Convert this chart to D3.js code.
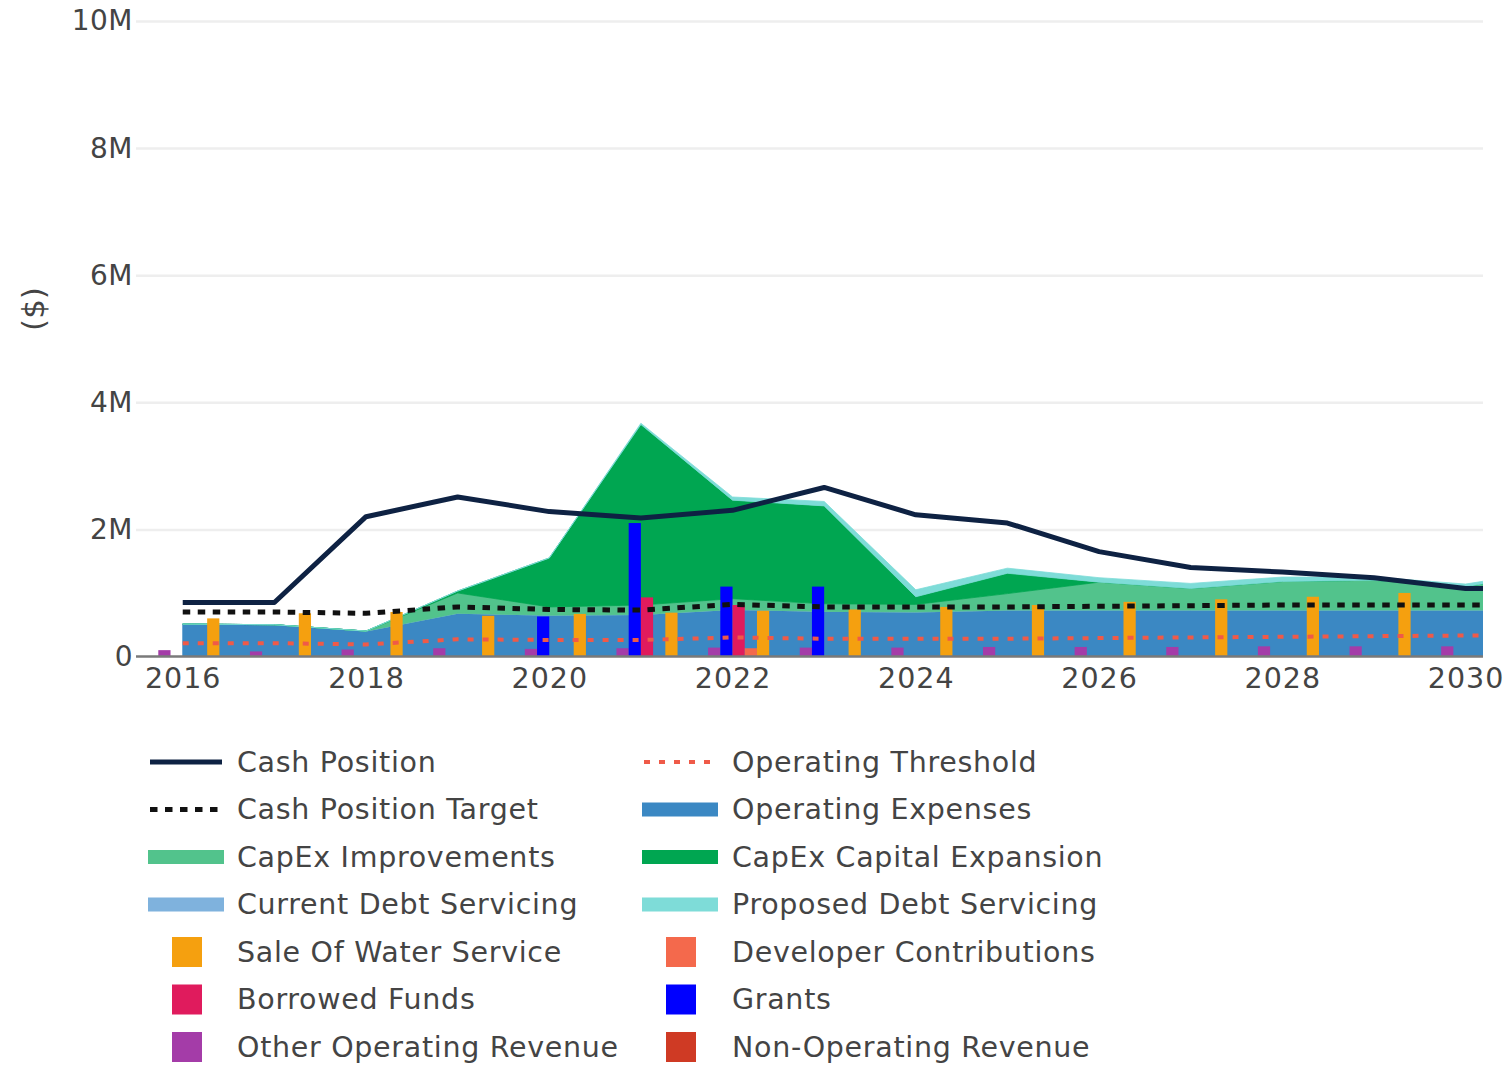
<!DOCTYPE html>
<html><head><meta charset="utf-8">
<script src="https://cdn.jsdelivr.net/npm/d3@7"></script>
<style>
body{margin:0;background:#fff}
text{font-family:"DejaVu Sans",Verdana,sans-serif;fill:#444}
</style>
</head><body>
<svg id="chart" width="1511" height="1065"></svg>
<script>
// ---------- DATA (values in $ millions) ----------
const years = [2016,2017,2018,2019,2020,2021,2022,2023,2024,2025,2026,2027,2028,2029,2030,2031];
const cashPosition       = [0.85,0.85,2.20,2.51,2.28,2.18,2.30,2.66,2.23,2.10,1.65,1.40,1.33,1.24,1.07,1.07];
const cashPositionTarget = [0.70,0.70,0.68,0.78,0.74,0.73,0.82,0.78,0.78,0.78,0.79,0.80,0.81,0.81,0.81,0.81];
const operatingThreshold = [0.21,0.21,0.19,0.27,0.26,0.26,0.30,0.28,0.28,0.28,0.29,0.30,0.31,0.32,0.33,0.33];
const operatingExpenses  = [0.51,0.50,0.40,0.68,0.65,0.66,0.74,0.71,0.70,0.73,0.73,0.73,0.73,0.73,0.73,0.73];
const currentDebtServicing = [0,0,0,0,0,0,0,0,0,0,0,0,0,0,0,0];
const capexImprovements  = [0,0,0,0.32,0.13,0.15,0.17,0.12,0.12,0.26,0.44,0.34,0.45,0.47,0.37,0.60];
const capexExpansion     = [0,0,0,0.03,0.77,2.84,1.55,1.54,0.12,0.32,0,0,0,0,0,0];
const proposedDebtServicing = [0,0,0,0,0,0.02,0.05,0.07,0.11,0.08,0.07,0.08,0.07,0.05,0.04,0.04];

const barYears = [2016,2017,2018,2019,2020,2021,2022,2023,2024,2025,2026,2027,2028,2029,2030];
const saleOfWaterService     = [0.60,0.68,0.70,0.64,0.67,0.69,0.72,0.74,0.78,0.81,0.86,0.90,0.94,1.00,1.04];
const developerContributions = [0,0,0,0,0,0,0.13,0,0,0,0,0,0,0,0];
const borrowedFunds          = [0,0,0,0,0,0.93,0.81,0,0,0,0,0,0,0,0];
const grants                 = [0,0,0,0,0.63,2.10,1.10,1.10,0,0,0,0,0,0,0];
const otherOperatingRevenue  = [0.10,0.08,0.11,0.13,0.12,0.13,0.14,0.14,0.14,0.15,0.15,0.15,0.16,0.16,0.16];
const nonOperatingRevenue    = [0,0,0,0,0,0,0,0,0,0,0,0,0,0,0];

const xTickValues = [2016,2018,2020,2022,2024,2026,2028,2030];
const yTickValues = [0,2,4,6,8,10];
const yTickLabels = ["0","2M","4M","6M","8M","10M"];

// ---------- SETUP ----------
const svg = d3.select("#chart");
const L = 136, R = 1483, T = 21, B = 656.5;
const x = d3.scaleLinear().domain([2015.49, 2030.19]).range([L, R]);
const y = d3.scaleLinear().domain([0, 10]).range([B, T]);

const C = {
  cash:"#0e2243", target:"#111", threshold:"#ef5a48",
  opex:"#3b88c3", curDebt:"#7fb2dd", imp:"#52c38c", exp:"#00a651", prop:"#7edcd8",
  sale:"#f5a00f", dev:"#f4694c", bor:"#e01b5d", grant:"#0000ff", other:"#a43ca8", nonop:"#cf3a24"
};

svg.append("defs").append("clipPath").attr("id","clip")
  .append("rect").attr("x",L).attr("y",0).attr("width",R-L).attr("height",B+2);

// gridlines
const grid = svg.append("g").attr("transform",`translate(${L},0)`)
  .call(d3.axisLeft(y).tickValues(yTickValues.slice(1)).tickSize(-(R-L)).tickFormat(""));
grid.select(".domain").remove();
grid.selectAll("line").attr("stroke","#eeeeee").attr("stroke-width",2.5);

// y labels
const yax = svg.append("g").attr("transform",`translate(${L},0)`)
  .call(d3.axisLeft(y).tickValues(yTickValues).tickSize(0).tickPadding(3)
    .tickFormat((d,i)=>yTickLabels[i]));
yax.select(".domain").remove();
yax.selectAll("text").style("font-size","28px").style("letter-spacing","0.5px").attr("fill","#444");

// x labels
const xax = svg.append("g").attr("transform",`translate(0,${B})`)
  .call(d3.axisBottom(x).tickValues(xTickValues).tickSize(0).tickPadding(11).tickFormat(d3.format("d")));
xax.select(".domain").remove();
xax.selectAll("text").style("font-size","28.5px").style("letter-spacing","1px").attr("fill","#444");

// y title
svg.append("text").attr("transform","translate(33,309) rotate(-90)")
  .attr("text-anchor","middle").attr("dominant-baseline","central")
  .style("font-size","31px").text("($)");

const plot = svg.append("g").attr("clip-path","url(#clip)");

// ---------- STACKED AREAS ----------
const areaKeys = ["opex","curDebt","imp","exp","prop"];
const areaSeries = {opex:operatingExpenses, curDebt:currentDebtServicing, imp:capexImprovements, exp:capexExpansion, prop:proposedDebtServicing};
const rows = years.map((yr,i)=>{const o={year:yr}; areaKeys.forEach(k=>o[k]=areaSeries[k][i]); return o;});
const stacked = d3.stack().keys(areaKeys)(rows);
const area = d3.area().x(d=>x(d.data.year)).y0(d=>y(d[0])).y1(d=>y(d[1]));
plot.selectAll(".area").data(stacked).join("path")
  .attr("d",area).attr("fill",d=>C[d.key]).attr("stroke",d=>C[d.key]).attr("stroke-width",0.8);

// ---------- GROUPED BARS ----------
const barKeys = ["nonop","other","grant","bor","dev","sale"];
const barSeries = {nonop:nonOperatingRevenue, other:otherOperatingRevenue, grant:grants, bor:borrowedFunds, dev:developerContributions, sale:saleOfWaterService};
const inner = d3.scaleBand().domain(barKeys).range([-0.4,0.4]).paddingInner(0);
barKeys.forEach(k=>{
  plot.append("g").selectAll("rect").data(barYears.map((yr,i)=>({yr,v:barSeries[k][i]})).filter(d=>d.v>0))
    .join("rect")
    .attr("x",d=>x(d.yr+inner(k)))
    .attr("width",d=>x(d.yr+inner(k)+inner.bandwidth())-x(d.yr+inner(k)))
    .attr("y",d=>y(d.v)).attr("height",d=>y(0)-y(d.v))
    .attr("fill",C[k]);
});

// zero line
svg.append("line").attr("x1",L).attr("x2",R).attr("y1",y(0)).attr("y2",y(0))
  .attr("stroke","#7a7a7a").attr("stroke-width",2.5);

// ---------- LINES ----------
const line = vals => d3.line().x((d,i)=>x(years[i])).y(d=>y(d))(vals);
plot.append("path").attr("d",line(operatingThreshold)).attr("fill","none")
  .attr("stroke",C.threshold).attr("stroke-width",4).attr("stroke-dasharray","6,9");
plot.append("path").attr("d",line(cashPositionTarget)).attr("fill","none")
  .attr("stroke",C.target).attr("stroke-width",5).attr("stroke-dasharray","7.5,7.5");
plot.append("path").attr("d",line(cashPosition)).attr("fill","none")
  .attr("stroke",C.cash).attr("stroke-width",5).attr("stroke-linejoin","round");

// ---------- LEGEND ----------
const legendItems = [
  {name:"Cash Position", type:"line", color:C.cash},
  {name:"Operating Threshold", type:"dotred", color:C.threshold},
  {name:"Cash Position Target", type:"dot", color:C.target},
  {name:"Operating Expenses", type:"area", color:C.opex},
  {name:"CapEx Improvements", type:"area", color:C.imp},
  {name:"CapEx Capital Expansion", type:"area", color:C.exp},
  {name:"Current Debt Servicing", type:"area", color:C.curDebt},
  {name:"Proposed Debt Servicing", type:"area", color:C.prop},
  {name:"Sale Of Water Service", type:"bar", color:C.sale},
  {name:"Developer Contributions", type:"bar", color:C.dev},
  {name:"Borrowed Funds", type:"bar", color:C.bor},
  {name:"Grants", type:"bar", color:C.grant},
  {name:"Other Operating Revenue", type:"bar", color:C.other},
  {name:"Non-Operating Revenue", type:"bar", color:C.nonop}
];
const colSym = [150, 644], colText = [237, 732], row0 = 762, rowH = 47.5;
const lg = svg.append("g");
legendItems.forEach((it,i)=>{
  const c = i%2, r = Math.floor(i/2);
  const sx = colSym[c], cy = row0 + r*rowH;
  const g = lg.append("g");
  if(it.type==="line"){
    g.append("line").attr("x1",sx).attr("x2",sx+72).attr("y1",cy).attr("y2",cy)
      .attr("stroke",it.color).attr("stroke-width",5);
  } else if(it.type==="dot"){
    g.append("line").attr("x1",sx).attr("x2",sx+72).attr("y1",cy).attr("y2",cy)
      .attr("stroke",it.color).attr("stroke-width",5).attr("stroke-dasharray","7.5,7.5");
  } else if(it.type==="dotred"){
    g.append("line").attr("x1",sx).attr("x2",sx+72).attr("y1",cy).attr("y2",cy)
      .attr("stroke",it.color).attr("stroke-width",4).attr("stroke-dasharray","6,9");
  } else if(it.type==="area"){
    g.append("rect").attr("x",sx-2).attr("y",cy-7).attr("width",76).attr("height",14).attr("fill",it.color);
  } else {
    g.append("rect").attr("x",sx+22).attr("y",cy-15).attr("width",30).attr("height",30).attr("fill",it.color);
  }
  g.append("text").attr("x",colText[c]).attr("y",cy).attr("dominant-baseline","central")
    .style("font-size","28.5px").style("letter-spacing","0.7px").text(it.name);
});
</script>
</body></html>
